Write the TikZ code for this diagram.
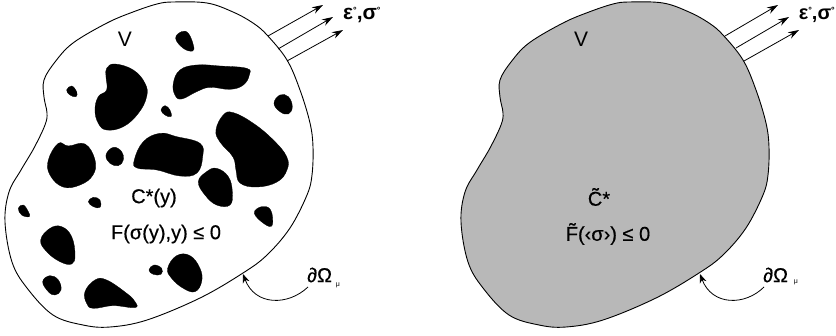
\documentclass[tikz,border=0pt]{standalone}
\usepackage{fontspec}
\setmainfont{Liberation Sans}[FakeBold=0.35]
\newfontfamily\plainfont{Liberation Sans}
\usetikzlibrary{arrows.meta}
\newcommand{\bodyoutline}{plot[smooth cycle,tension=0.6] coordinates {(173,2)(207,3)(233,12)(253,23)(267,35)(287,60)(300,90)(310,123)(313,147)(312,175)(307,195)(290,228)(267,255)(243,273)(200,298)(147,320)(110,327)(83,325)(53,315)(27,288)(12,262)(5,222)(9,192)(21,170)(34,148)(45,125)(47,113)(44,97)(44,80)(55,62)(73,43)(107,23)(133,12)(157,4)}}
\tikzset{
  body/.style={draw=black,line width=0.9pt},
  blob/.style={fill=black,draw=black,line width=0.3pt},
  load/.style={draw=black,line width=0.8pt,-{Stealth[length=11pt,width=7pt]}},
  hook/.style={draw=black,line width=0.8pt,-{Stealth[length=9pt,width=7pt]}},
  lab/.style={inner sep=0pt,font=\fontsize{20}{22}\selectfont},
  vlab/.style={inner sep=0pt,font=\plainfont\fontsize{21}{23}\selectfont},
  bnd/.style={inner sep=0pt,anchor=west,font=\fontsize{20}{22}\selectfont},
  micro/.style={inner sep=0pt,font=\plainfont\fontsize{7}{8}\selectfont},
  loadlab/.style={inner sep=0pt,anchor=west,font=\plainfont\fontsize{21}{23}\selectfont\bfseries},
  za/.style={x=0.3333pt,y=-0.3333pt}
}
\newcommand{\blob}[1]{\path[blob] plot[smooth cycle,tension=0.7] coordinates {#1};}
\newcommand{\circsup}{\raisebox{6pt}{\fontsize{9}{9}\selectfont°}}
\begin{document}
\begin{tikzpicture}[x=1pt,y=-1pt]
\useasboundingbox (0,0) rectangle (836,335);
\clip (0,0) rectangle (836,335);
% left body
\path[body,fill=white] \bodyoutline;
\begin{scope}[za]
\blob{(527,115)(545,95)(565,100)(580,135)(578,153)(550,145)}
\blob{(320,205)(345,192)(400,210)(435,250)(440,290)(415,340)(370,380)(320,390)(295,370)(285,330)(295,290)(320,270)(318,230)}
\blob{(520,250)(540,210)(590,195)(660,198)(740,205)(748,225)(730,255)(690,268)(630,262)(590,275)(545,297)(525,285)}
\blob{(200,270)(215,258)(230,275)(228,290)(210,285)}
\blob{(483,330)(495,317)(510,330)(513,350)(495,345)}
\blob{(822,310)(840,285)(865,290)(877,320)(865,342)(840,335)}
\blob{(648,390)(670,345)(700,338)(760,370)(820,420)(860,470)(861,510)(831,546)(771,561)(720,549)(708,510)(699,471)(660,426)}
\blob{(145,480)(175,430)(205,438)(255,432)(285,480)(279,525)(240,555)(189,561)(150,525)}
\blob{(318,465)(340,442)(365,455)(370,480)(355,497)(330,490)}
\blob{(403,480)(430,425)(480,400)(530,410)(600,430)(608,470)(591,519)(540,528)(471,510)(411,504)}
\end{scope}
\begin{scope}[za,yshift=-165pt]
\blob{(595,50)(620,20)(650,10)(685,35)(697,80)(690,120)(650,120)(615,90)}
\blob{(265,110)(280,97)(300,105)(300,127)(280,125)}
\blob{(55,130)(70,120)(85,140)(88,155)(65,150)}
\blob{(763,145)(785,125)(812,135)(817,180)(795,178)}
\blob{(122,225)(150,190)(185,185)(215,215)(225,270)(215,297)(180,290)(140,260)}
\blob{(128,350)(150,332)(175,345)(183,375)(165,390)(145,380)}
\blob{(255,380)(285,345)(320,345)(380,385)(405,410)(405,428)(340,422)(280,430)(260,415)}
\blob{(447,315)(462,300)(485,310)(483,328)(460,328)}
\blob{(503,310)(530,272)(570,272)(600,310)(605,350)(585,380)(550,370)(515,340)}
\end{scope}
\node[vlab] (vl) at (125,39) {V};
\node[lab] (cl) at (154,198) {C*(y)};
\node[lab] (fl) at (166,234) {F(σ(y),y) ≤ 0};
\node[loadlab] (el) at (343,15) {ε\circsup,σ\circsup};
\node[bnd] (ol) at (307,275) {∂Ω};
\node[micro] (ml) at (338,285) {μ};
\coordinate (la1) at (268,36); \coordinate (lb1) at (323,5);
\coordinate (la2) at (278,49); \coordinate (lb2) at (333,17);
\coordinate (la3) at (287,61); \coordinate (lb3) at (343,30);
\coordinate (lc) at (308,287); \coordinate (lt) at (243,274);
\draw[load] (la1) -- (lb1);
\draw[load] (la2) -- (lb2);
\draw[load] (la3) -- (lb3);
\draw[hook] (lc) .. controls (288,306) and (255,306) .. (lt);
% right body
\begin{scope}[xshift=456pt]
\path[body,fill=black!28] \bodyoutline;
\end{scope}
\node[vlab] (vr) at (581,39) {V};
\node[lab] (cr) at (599,197) {\~{C}*};
\node[lab] (fr) at (608,234) {\~{F}(‹σ›) ≤ 0};
\node[loadlab,anchor=east,font=\plainfont\fontsize{20}{22}\selectfont\bfseries] (er) at (835,15) {ε\circsup,σ\circsup};
\node[bnd] (or) at (763,275) {∂Ω};
\node[micro] (mr) at (796,282) {μ};
\coordinate (ra1) at (725,36); \coordinate (rb1) at (778,5);
\coordinate (ra2) at (736,48); \coordinate (rb2) at (789,17);
\coordinate (ra3) at (744,61); \coordinate (rb3) at (799,30);
\coordinate (rc) at (764,287); \coordinate (rt) at (700,274);
\draw[load] (ra1) -- (rb1);
\draw[load] (ra2) -- (rb2);
\draw[load] (ra3) -- (rb3);
\draw[hook] (rc) .. controls (745,306) and (712,306) .. (rt);
\end{tikzpicture}
\end{document}
